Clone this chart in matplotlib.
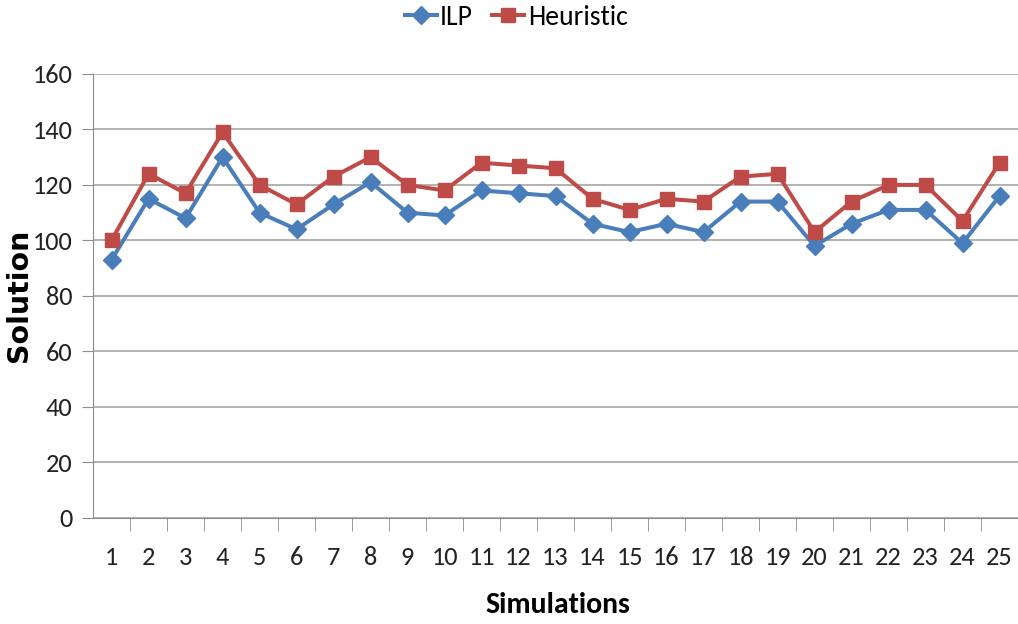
import matplotlib
matplotlib.use("Agg")
import matplotlib.pyplot as plt
from matplotlib import font_manager

sims = list(range(1, 26))
ilp = [93, 115, 108, 130, 110, 104, 113, 121, 110, 109, 118, 117, 116,
       106, 103, 106, 103, 114, 114, 98, 106, 111, 111, 99, 116]
heuristic = [100, 124, 117, 139, 120, 113, 123, 130, 120, 118, 128, 127, 126,
             115, 111, 115, 114, 123, 124, 103, 114, 120, 120, 107, 128]
yticks = [0, 20, 40, 60, 80, 100, 120, 140, 160]

names = {f.name for f in font_manager.fontManager.ttflist}
if "Carlito" in names:
    font = dict(family="Carlito")
else:
    font = dict(family="DejaVu Sans", stretch="condensed")

fig = plt.figure(figsize=(10.18, 6.24), dpi=100)
ax = fig.add_axes([0.0914, 0.170, 0.9086, 0.7115])

ax.plot(sims, ilp, color="#4a7ebb", lw=2.9, marker="D", ms=9.5, label="ILP")
ax.plot(sims, heuristic, color="#be4b48", lw=2.9, marker="s", ms=10, label="Heuristic")

ax.set_xlim(0.5, 25.5)
ax.set_ylim(0, 160)
ax.set_yticks(yticks)
ax.set_xticks(sims)
ax.set_xticks([s + 0.5 for s in sims[:-1]], minor=True)
ax.yaxis.grid(True, color="#a6a6a6", lw=1.2)
ax.set_axisbelow(True)
for s in ["top", "right"]:
    ax.spines[s].set_visible(False)
ax.spines["left"].set_color("#8c8c8c")
ax.spines["bottom"].set_color("#8c8c8c")
ax.tick_params(axis="x", which="major", length=0, pad=20)
ax.tick_params(axis="x", which="minor", length=9, color="#8c8c8c")
ax.tick_params(axis="y", length=8, color="#8c8c8c", pad=7)
for lab in ax.get_xticklabels() + ax.get_yticklabels():
    lab.set_fontproperties(font_manager.FontProperties(size=19, **font))
    lab.set_color("#222222")

fig.text(0.019, 0.527, "Solution", rotation=90, ha="center", va="center",
         fontsize=20.5, fontweight="bold", family="DejaVu Sans")
fig.text(0.548, 0.03, "Simulations", ha="center", va="center",
         fontproperties=font_manager.FontProperties(size=21.5, weight="bold", **font))

fig.legend(loc="center", bbox_to_anchor=(0.507, 0.972), ncol=2, frameon=False,
           prop=font_manager.FontProperties(size=20, **font),
           handlelength=1.15, columnspacing=0.7, handletextpad=0.12,
           borderpad=0, borderaxespad=0)

fig.savefig("out.png", dpi=100)
